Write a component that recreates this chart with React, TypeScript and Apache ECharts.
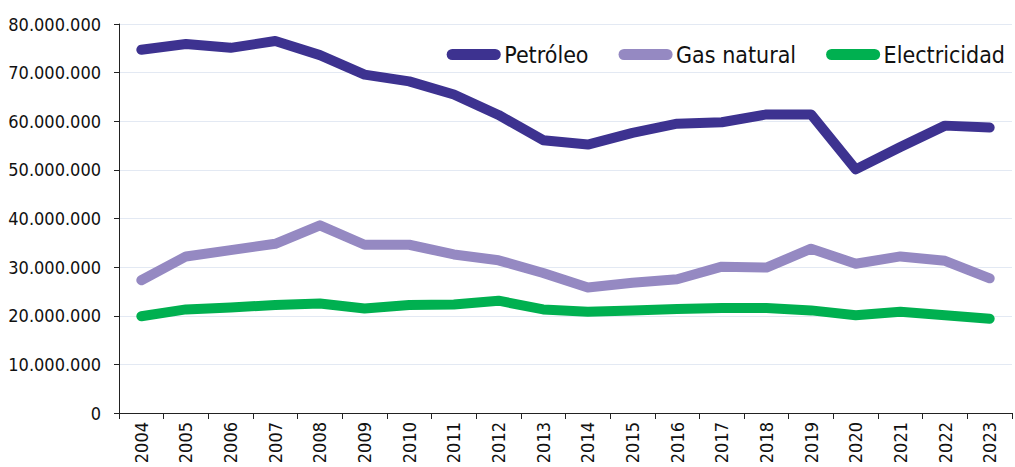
import React, { useEffect, useRef } from "react";
import * as echarts from "echarts";

const years = ["2004","2005","2006","2007","2008","2009","2010","2011","2012","2013","2014","2015","2016","2017","2018","2019","2020","2021","2022","2023"];
const petroleo = [74.7,75.9,75.1,76.5,73.6,69.6,68.2,65.5,61.3,56.1,55.2,57.6,59.5,59.8,61.4,61.4,50.1,54.7,59.1,58.7].map(v => v * 1e6);
const gasNatural = [27.3,32.2,33.5,34.8,38.6,34.6,34.6,32.6,31.4,28.8,25.8,26.8,27.5,30.1,29.9,33.8,30.7,32.2,31.3,27.7].map(v => v * 1e6);
const electricidad = [19.9,21.3,21.7,22.2,22.5,21.5,22.2,22.3,23.1,21.3,20.8,21.1,21.4,21.6,21.6,21.1,20.1,20.8,20.1,19.4].map(v => v * 1e6);

const FONT = "'DejaVu Sans Condensed', 'Open Sans', sans-serif";
const capsule = "path://M6,0 H53 A6,6 0 0 1 53,12 H6 A6,6 0 0 1 6,0 Z";

function fmt(v: number) {
  return String(Math.round(v)).replace(/\B(?=(\d{3})+(?!\d))/g, ".");
}

export default function App() {
  const ref = useRef<HTMLDivElement>(null);
  useEffect(() => {
    const chart = echarts.init(ref.current!, null, { renderer: "svg" });
    const mk = (name: string, data: number[], color: string) => ({
      name,
      type: "line",
      data,
      showSymbol: false,
      symbol: "none",
      lineStyle: { width: 10, color, cap: "round", join: "round" },
      itemStyle: { color },
    });
    chart.setOption({
      animation: false,
      textStyle: { fontFamily: FONT },
      grid: { left: 119, right: 3, top: 24, bottom: 54 },
      legend: {
        right: 5,
        top: 38,
        itemWidth: 59,
        itemHeight: 11,
        itemGap: 30,
        icon: capsule,
        textStyle: { fontFamily: FONT, fontSize: 23, color: "#111", padding: [0, 0, 0, -4] },
        data: ["Petróleo", "Gas natural", "Electricidad"],
      },
      xAxis: {
        type: "category",
        data: years,
        boundaryGap: true,
        axisLine: { lineStyle: { color: "#222", width: 1 } },
        axisTick: { show: true, alignWithLabel: false, length: 6, lineStyle: { color: "#222" } },
        axisLabel: { rotate: 90, fontSize: 18, color: "#111", fontFamily: FONT, margin: 9, interval: 0 },
      },
      yAxis: {
        type: "value",
        min: 0,
        max: 80000000,
        interval: 10000000,
        axisLine: { show: true, lineStyle: { color: "#222", width: 1 } },
        axisTick: { show: true, length: 5, lineStyle: { color: "#222" } },
        splitLine: { lineStyle: { color: "#e3e9f3", width: 1 } },
        axisLabel: { fontSize: 18, color: "#111", fontFamily: FONT, margin: 18, formatter: (v: number) => fmt(v) },
      },
      series: [
        mk("Petróleo", petroleo, "#3d3290"),
        mk("Gas natural", gasNatural, "#9589c2"),
        mk("Electricidad", electricidad, "#00b050"),
      ],
    });
    return () => chart.dispose();
  }, []);
  return <div ref={ref} style={{ width: 1015, height: 467, position: "absolute", left: 0, top: 0 }} />;
}
